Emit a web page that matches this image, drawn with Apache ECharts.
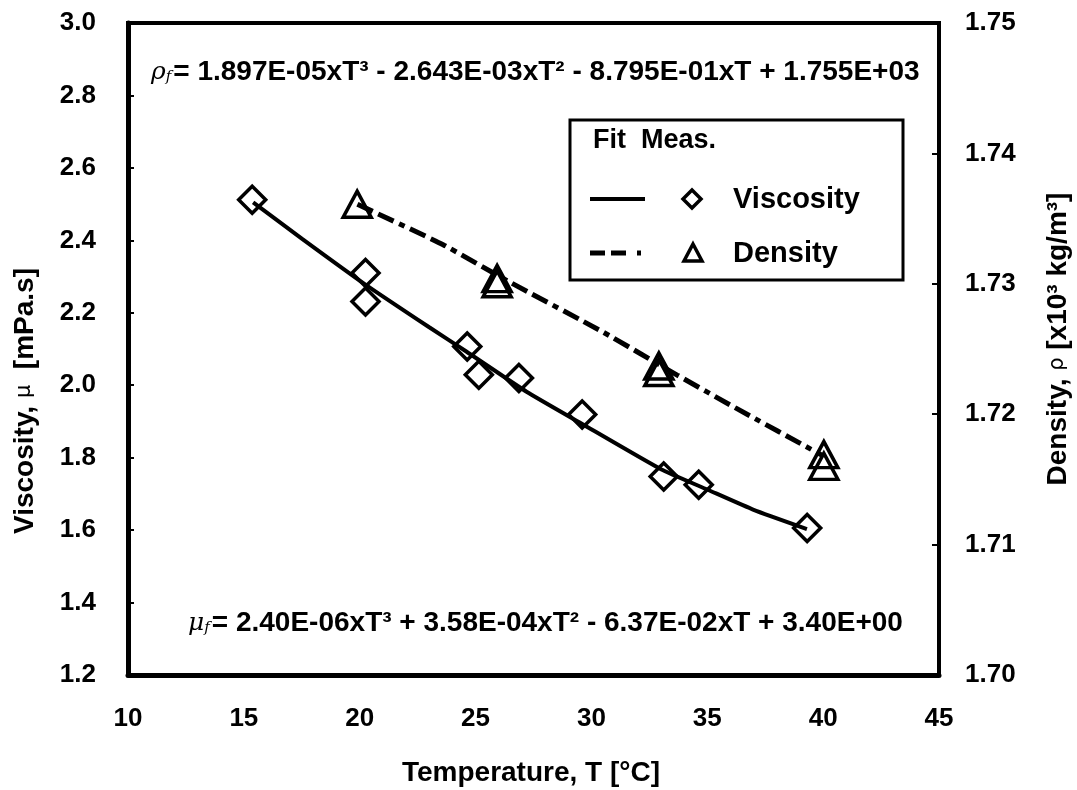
<!DOCTYPE html>
<html>
<head>
<meta charset="utf-8">
<script src="https://cdn.jsdelivr.net/npm/echarts@6/dist/echarts.min.js"></script>
<style>
  html, body { margin: 0; padding: 0; background: #fff; }
  #chart { width: 1077px; height: 790px; }
</style>
</head>
<body>
<div id="chart"></div>
<script>
const visT = [15.36, 20.25, 20.25, 24.64, 25.14, 26.87, 29.60, 33.12, 34.63, 39.31];
const visMu = [2.512, 2.310, 2.231, 2.107, 2.029, 2.020, 1.919, 1.748, 1.725, 1.606];
const denT = [19.89, 25.93, 25.93, 32.91, 32.91, 40.03, 40.03];
const denRho = [1.7361, 1.7304, 1.7300, 1.7237, 1.7232, 1.7169, 1.7160];

// fitted curves, points
const visFitT = [15.4, 17.5, 20.2, 23.0, 24.6, 27.2, 29.6, 33.0, 35.0, 37.0, 39.3];
const visFitMu = [2.505, 2.405, 2.280, 2.160, 2.093, 1.982, 1.893, 1.768, 1.712, 1.656, 1.603];
const denFitT = [19.9, 23.6, 26.4, 30.5, 33.7, 36.2, 40.0];
const denFitRho = [1.7361, 1.7330, 1.7302, 1.7263, 1.7230, 1.7205, 1.7168];

const xTicks = { min: 10, max: 45, step: 5 };
const muTicks = { min: 1.2, max: 3.0, step: 0.2 };
const rhoTicks = { min: 1.70, max: 1.75, step: 0.01 };

const rhoEq = '= 1.897E-05xT³ - 2.643E-03xT² - 8.795E-01xT + 1.755E+03';
const muEq = '= 2.40E-06xT³ + 3.58E-04xT² - 6.37E-02xT + 3.40E+00';

const zip = (a, b) => a.map((v, i) => [v, b[i]]);
const FONT = 'Liberation Sans, Arial, sans-serif';
const lbl = { color: '#000', fontFamily: FONT, fontWeight: 'bold', fontSize: 26 };

const chart = echarts.init(document.getElementById('chart'));

const eqRich = {
  g: { fontFamily: 'DejaVu Serif', fontStyle: 'italic', fontSize: 25, color: '#000' },
  s: { fontFamily: 'DejaVu Serif', fontStyle: 'italic', fontSize: 15, color: '#000', padding: [10, 2, 0, 0] },
  b: { fontFamily: FONT, fontWeight: 'bold', fontSize: 28, color: '#000' }
};

const nameRich = {
  b: { fontFamily: FONT, fontWeight: 'bold', fontSize: 28, color: '#000' },
  g: { fontFamily: 'DejaVu Sans', fontSize: 21, color: '#000' }
};

chart.setOption({
  backgroundColor: '#fff',
  animation: false,
  grid: {
    left: 128, right: 138, top: 23, bottom: 115,
    show: true, borderColor: '#000', borderWidth: 4
  },
  xAxis: {
    type: 'value', min: xTicks.min, max: xTicks.max, interval: xTicks.step,
    axisLine: { show: true, lineStyle: { color: '#000', width: 5 } },
    axisTick: { show: false },
    splitLine: { show: false },
    axisLabel: Object.assign({ margin: 31 }, lbl)
  },
  yAxis: [
    {
      type: 'value', min: muTicks.min, max: muTicks.max, interval: muTicks.step,
      axisLine: { show: true, lineStyle: { color: '#000', width: 5 } },
      axisTick: { show: true, inside: true, length: 6, lineStyle: { color: '#000', width: 2 } },
      splitLine: { show: false },
      axisLabel: Object.assign({ margin: 32, formatter: v => v.toFixed(1) }, lbl)
    },
    {
      type: 'value', min: rhoTicks.min, max: rhoTicks.max, interval: rhoTicks.step,
      position: 'right',
      axisLine: { show: true, lineStyle: { color: '#000', width: 3 } },
      axisTick: { show: true, inside: true, length: 7, lineStyle: { color: '#000', width: 2 } },
      splitLine: { show: false },
      axisLabel: Object.assign({ margin: 26, formatter: v => v.toFixed(2) }, lbl)
    }
  ],
  series: [
    {
      name: 'Viscosity fit', type: 'line', yAxisIndex: 0, smooth: 0.15,
      data: zip(visFitT, visFitMu), symbol: 'none',
      lineStyle: { color: '#000', width: 4 }, z: 2
    },
    {
      name: 'Density fit', type: 'line', yAxisIndex: 1, smooth: 0.15,
      data: zip(denFitT, denFitRho), symbol: 'none',
      lineStyle: { color: '#000', width: 5, type: [17, 6, 17, 6, 6, 6] }, z: 2
    },
    {
      name: 'Viscosity', type: 'scatter', yAxisIndex: 0,
      data: zip(visT, visMu), symbol: 'diamond', symbolSize: [27, 27],
      itemStyle: { color: 'rgba(255,255,255,0)', borderColor: '#000', borderWidth: 3.5, opacity: 1 }, z: 3
    },
    {
      name: 'Density', type: 'scatter', yAxisIndex: 1,
      data: zip(denT, denRho), symbol: 'triangle', symbolSize: [28, 26],
      itemStyle: { color: 'rgba(255,255,255,0)', borderColor: '#000', borderWidth: 3.5, opacity: 1 }, z: 3
    }
  ],
  graphic: [
    // equations
    {
      type: 'text', left: 151, top: 58, z: 10,
      style: { text: '{g|ρ}{s|f}{b|' + rhoEq + '}', rich: eqRich }
    },
    {
      type: 'text', left: 188, top: 609, z: 10,
      style: { text: '{g|μ}{s|f}{b|' + muEq + '}', rich: eqRich }
    },
    // legend box
    {
      type: 'rect', z: 10,
      shape: { x: 570, y: 120, width: 333, height: 160 },
      style: { fill: '#fff', stroke: '#000', lineWidth: 3 }
    },
    {
      type: 'text', x: 593, y: 141, z: 11,
      style: { text: 'Fit  Meas.', fill: '#000', font: 'bold 27px ' + FONT, verticalAlign: 'middle' }
    },
    {
      type: 'line', z: 11,
      shape: { x1: 590, y1: 199, x2: 645, y2: 199 },
      style: { stroke: '#000', lineWidth: 4 }
    },
    {
      type: 'polygon', z: 11,
      shape: { points: [[692, 190], [701, 199], [692, 208], [683, 199]] },
      style: { fill: 'none', stroke: '#000', lineWidth: 3.5 }
    },
    {
      type: 'text', x: 733, y: 200, z: 11,
      style: { text: 'Viscosity', fill: '#000', font: 'bold 29px ' + FONT, verticalAlign: 'middle' }
    },
    {
      type: 'line', z: 11,
      shape: { x1: 590, y1: 253, x2: 645, y2: 253 },
      style: { stroke: '#000', lineWidth: 5, lineDash: [15, 6, 15, 11, 4, 6] }
    },
    {
      type: 'polygon', z: 11,
      shape: { points: [[693, 244], [702, 261], [684, 261]] },
      style: { fill: 'none', stroke: '#000', lineWidth: 3.5 }
    },
    {
      type: 'text', x: 733, y: 254, z: 11,
      style: { text: 'Density', fill: '#000', font: 'bold 29px ' + FONT, verticalAlign: 'middle' }
    },
    // axis names
    {
      type: 'text', x: 25, y: 401, rotation: Math.PI / 2, z: 10,
      style: {
        text: '{b|Viscosity, }{g|μ}{b|  [mPa.s]}', align: 'center', verticalAlign: 'middle',
        rich: nameRich
      }
    },
    {
      type: 'text', x: 1058, y: 339, rotation: Math.PI / 2, z: 10,
      style: {
        text: '{b|Density, }{g|ρ}{b| [x10³ kg/m³]}', align: 'center', verticalAlign: 'middle',
        rich: nameRich
      }
    },
    {
      type: 'text', x: 531, y: 773, z: 10,
      style: {
        text: 'Temperature, T [°C]', fill: '#000', font: 'bold 28px ' + FONT,
        align: 'center', verticalAlign: 'middle'
      }
    }
  ]
});
</script>
</body>
</html>
